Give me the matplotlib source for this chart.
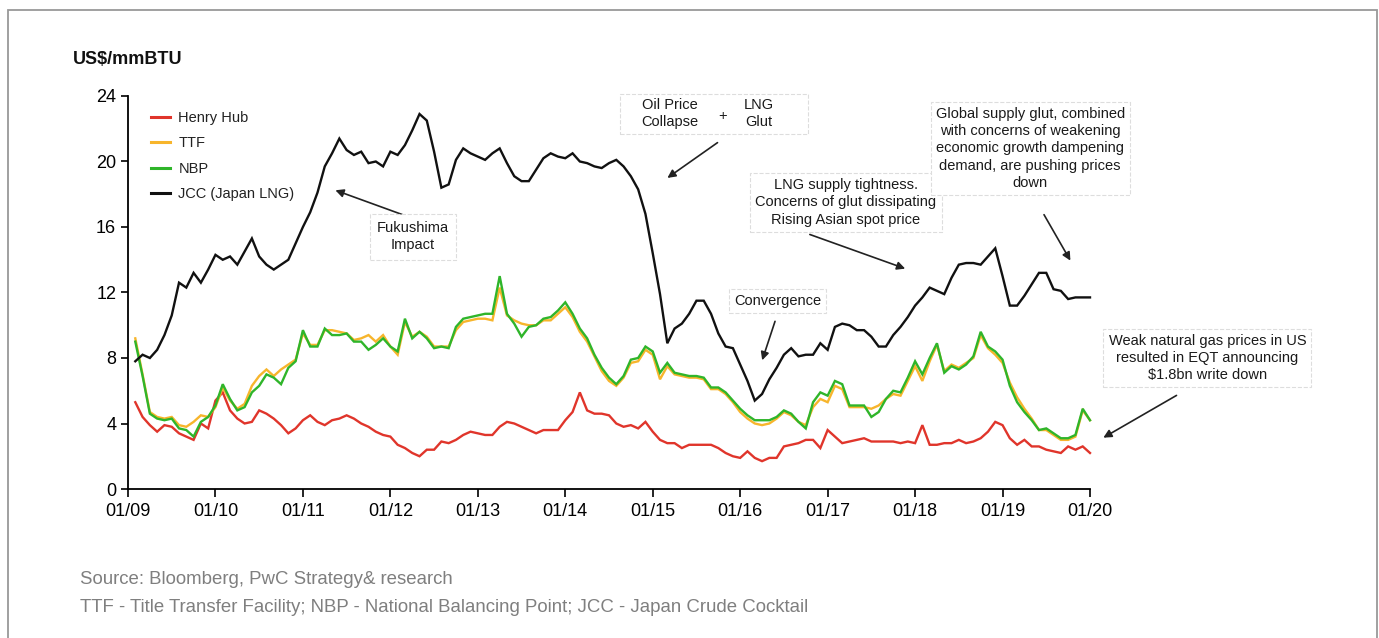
import numpy as np
import matplotlib
matplotlib.use("Agg")
import matplotlib.pyplot as plt
from matplotlib.patches import Rectangle

plt.rcParams['font.family'] = ['Liberation Sans', 'DejaVu Sans']

# monthly prices, Feb 2009 .. Jan 2020 (US$/mmBTU)
henry_hub = [5.3, 4.4, 3.9, 3.5, 3.9, 3.8, 3.4, 3.2, 3.0, 4.0, 3.7, 5.4,
             5.9, 4.8, 4.3, 4.0, 4.1, 4.8, 4.6, 4.3, 3.9, 3.4, 3.7, 4.2,
             4.5, 4.1, 3.9, 4.2, 4.3, 4.5, 4.3, 4.0, 3.8, 3.5, 3.3, 3.2,
             2.7, 2.5, 2.2, 2.0, 2.4, 2.4, 2.9, 2.8, 3.0, 3.3, 3.5, 3.4,
             3.3, 3.3, 3.8, 4.1, 4.0, 3.8, 3.6, 3.4, 3.6, 3.6, 3.6, 4.2,
             4.7, 5.9, 4.8, 4.6, 4.6, 4.5, 4.0, 3.8, 3.9, 3.7, 4.1, 3.5,
             3.0, 2.8, 2.8, 2.5, 2.7, 2.7, 2.7, 2.7, 2.5, 2.2, 2.0, 1.9,
             2.3, 1.9, 1.7, 1.9, 1.9, 2.6, 2.7, 2.8, 3.0, 3.0, 2.5, 3.6,
             3.2, 2.8, 2.9, 3.0, 3.1, 2.9, 2.9, 2.9, 2.9, 2.8, 2.9, 2.8,
             3.9, 2.7, 2.7, 2.8, 2.8, 3.0, 2.8, 2.9, 3.1, 3.5, 4.1, 3.9,
             3.1, 2.7, 3.0, 2.6, 2.6, 2.4, 2.3, 2.2, 2.6, 2.4, 2.6, 2.2]

ttf = [9.2, 7.0, 4.7, 4.4, 4.3, 4.4, 3.9, 3.8, 4.1, 4.5, 4.4, 5.0,
       6.2, 5.4, 4.9, 5.2, 6.3, 6.9, 7.3, 6.9, 7.3, 7.6, 7.9, 9.5,
       8.8, 8.8, 9.7, 9.7, 9.6, 9.5, 9.1, 9.2, 9.4, 9.0, 9.4, 8.7,
       8.2, 10.2, 9.3, 9.6, 9.3, 8.7, 8.7, 8.7, 9.7, 10.2, 10.3, 10.4,
       10.4, 10.3, 12.3, 10.6, 10.3, 10.1, 10.0, 10.0, 10.3, 10.3, 10.7, 11.1,
       10.5, 9.6, 9.0, 8.1, 7.2, 6.6, 6.3, 6.8, 7.7, 7.8, 8.5, 8.2,
       6.7, 7.5, 7.0, 6.9, 6.8, 6.8, 6.7, 6.1, 6.1, 5.8, 5.3, 4.7,
       4.3, 4.0, 3.9, 4.0, 4.3, 4.7, 4.5, 4.1, 3.9, 5.0, 5.5, 5.3,
       6.3, 6.1, 5.0, 5.0, 5.0, 4.9, 5.1, 5.5, 5.8, 5.7, 6.6, 7.5,
       6.6, 7.8, 8.8, 7.2, 7.6, 7.4, 7.7, 8.0, 9.4, 8.6, 8.2, 7.7,
       6.5, 5.6, 4.9, 4.3, 3.6, 3.6, 3.3, 3.0, 3.0, 3.2, 4.8, 4.2]

nbp = [9.0, 6.9, 4.6, 4.3, 4.2, 4.3, 3.7, 3.6, 3.2, 4.1, 4.4, 5.1,
       6.4, 5.5, 4.8, 5.0, 5.9, 6.3, 7.0, 6.8, 6.4, 7.4, 7.8, 9.7,
       8.7, 8.7, 9.8, 9.4, 9.4, 9.5, 9.0, 9.0, 8.5, 8.8, 9.2, 8.7,
       8.4, 10.4, 9.2, 9.6, 9.2, 8.6, 8.7, 8.6, 9.9, 10.4, 10.5, 10.6,
       10.7, 10.7, 13.0, 10.7, 10.1, 9.3, 9.9, 10.0, 10.4, 10.5, 10.9, 11.4,
       10.7, 9.8, 9.2, 8.2, 7.4, 6.8, 6.4, 6.9, 7.9, 8.0, 8.7, 8.4,
       7.1, 7.7, 7.1, 7.0, 6.9, 6.9, 6.8, 6.2, 6.2, 5.9, 5.4, 4.9,
       4.5, 4.2, 4.2, 4.2, 4.4, 4.8, 4.6, 4.1, 3.7, 5.3, 5.9, 5.7,
       6.6, 6.4, 5.1, 5.1, 5.1, 4.4, 4.7, 5.5, 6.0, 5.9, 6.8, 7.8,
       7.0, 8.0, 8.9, 7.1, 7.5, 7.3, 7.6, 8.1, 9.6, 8.7, 8.4, 7.9,
       6.3, 5.3, 4.7, 4.2, 3.6, 3.7, 3.4, 3.1, 3.1, 3.3, 4.9, 4.2]

jcc = [7.8, 8.2, 8.0, 8.5, 9.4, 10.6, 12.6, 12.3, 13.2, 12.6, 13.4, 14.3,
       14.0, 14.2, 13.7, 14.5, 15.3, 14.2, 13.7, 13.4, 13.7, 14.0, 15.0, 16.0,
       16.9, 18.1, 19.7, 20.5, 21.4, 20.7, 20.4, 20.6, 19.9, 20.0, 19.7, 20.6,
       20.4, 21.0, 21.9, 22.9, 22.5, 20.6, 18.4, 18.6, 20.1, 20.8, 20.5, 20.3,
       20.1, 20.5, 20.8, 19.9, 19.1, 18.8, 18.8, 19.5, 20.2, 20.5, 20.3, 20.2,
       20.5, 20.0, 19.9, 19.7, 19.6, 19.9, 20.1, 19.7, 19.1, 18.3, 16.8, 14.4,
       11.9, 8.9, 9.8, 10.1, 10.7, 11.5, 11.5, 10.7, 9.5, 8.7, 8.6, 7.6,
       6.6, 5.4, 5.8, 6.7, 7.4, 8.2, 8.6, 8.1, 8.2, 8.2, 8.9, 8.5,
       9.9, 10.1, 10.0, 9.7, 9.7, 9.3, 8.7, 8.7, 9.4, 9.9, 10.5, 11.2,
       11.7, 12.3, 12.1, 11.9, 12.9, 13.7, 13.8, 13.8, 13.7, 14.2, 14.7, 13.0,
       11.2, 11.2, 11.8, 12.5, 13.2, 13.2, 12.2, 12.1, 11.6, 11.7, 11.7, 11.7]

series_names = ['Henry Hub', 'TTF', 'NBP', 'JCC (Japan LNG)']
series_colors = ['#e0352b', '#f7b52c', '#2fb52a', '#111111']
year_labels = ['01/%02d' % y for y in range(9, 21)]

months = np.arange(1, len(jcc) + 1)

W, H = 1379, 638
fig = plt.figure(figsize=(W / 100, H / 100), dpi=100)
ax = fig.add_axes([128 / W, 1 - 489 / H, 962 / W, 393 / H])

for vals, name, col in zip([henry_hub, ttf, nbp, jcc], series_names, series_colors):
    ax.plot(months, vals, color=col, lw=1.7, label=name, clip_on=False,
            solid_joinstyle='miter')

ax.set_xlim(0, 132)
ax.set_ylim(0, 24)
ax.set_xticks(np.arange(0, 133, 12))
ax.set_xticklabels(year_labels, fontsize=13)
ax.set_yticks(np.arange(0, 25, 4))
ax.tick_params(axis='y', labelsize=13, length=5, width=1.2, direction='out')
ax.tick_params(axis='x', length=6, width=1.2, direction='out', pad=4)
for s in ['top', 'right']:
    ax.spines[s].set_visible(False)
for s in ['left', 'bottom']:
    ax.spines[s].set_linewidth(1.3)

leg = ax.legend(loc='upper left', bbox_to_anchor=(0.01, 0.995), frameon=False,
                fontsize=10.5, handlelength=1.3, handletextpad=0.6, labelspacing=0.78)
for t in leg.get_texts():
    t.set_color('#222222')
for h in leg.get_lines():
    h.set_linewidth(2.2)

box = dict(boxstyle='square,pad=0.35', fc='white', ec='#dddddd', ls='--', lw=0.8)
arrow = dict(arrowstyle='-|>', color='#222222', lw=1.2, mutation_scale=12)
tfont = dict(fontsize=10.5, color='#1a1a1a', ha='center', va='center', linespacing=1.3)

ax.annotate('', xy=(28.1, 18.3), xytext=(38.0, 16.7), arrowprops=arrow)
ax.text(39.1, 15.4, 'Fukushima\nImpact', bbox=dict(box, boxstyle='square,pad=0.5'), **tfont)

ax.add_patch(Rectangle((67.5, 21.7), 25.8, 2.45, fill=False, ec='#dddddd', ls='--',
                       lw=0.8, clip_on=False))
ax.text(74.4, 22.95, 'Oil Price\nCollapse', **tfont)
ax.text(81.6, 22.8, '+', **tfont)
ax.text(86.6, 22.95, 'LNG\nGlut', **tfont)
ax.annotate('', xy=(73.7, 18.9), xytext=(81.2, 21.25), arrowprops=arrow)

ax.text(98.5, 17.5, 'LNG supply tightness.\nConcerns of glut dissipating\nRising Asian spot price',
        bbox=box, **tfont)
ax.annotate('', xy=(107.0, 13.4), xytext=(93.2, 15.6), arrowprops=arrow)

ax.text(89.1, 11.5, 'Convergence', bbox=box, **tfont)
ax.annotate('', xy=(86.9, 7.7), xytext=(88.9, 10.4), arrowprops=arrow)

ax.text(123.8, 20.8, 'Global supply glut, combined\nwith concerns of weakening\n'
        'economic growth dampening\ndemand, are pushing prices\ndown', bbox=box, **tfont)
ax.annotate('', xy=(129.5, 13.8), xytext=(125.5, 16.9), arrowprops=arrow)

ax.text(148.1, 8.0, 'Weak natural gas prices in US\nresulted in EQT announcing\n$1.8bn write down',
        bbox=box, clip_on=False, **tfont)
ax.annotate('', xy=(133.5, 3.05), xytext=(144.2, 5.8), arrowprops=arrow, annotation_clip=False)

fig.text(73 / W, 1 - 60 / H, 'US$/mmBTU', fontsize=13, fontweight='bold', va='center',
         ha='left', color='#111111')
foot = dict(fontsize=13.4, color='#7f7f7f', va='center', ha='left')
fig.text(80 / W, 1 - 579 / H, 'Source: Bloomberg, PwC Strategy& research', **foot)
fig.text(80 / W, 1 - 607 / H, 'TTF - Title Transfer Facility; NBP - National Balancing Point; '
         'JCC - Japan Crude Cocktail', **foot)

fig.patches.append(Rectangle((8 / W, -0.02), (1377 - 8) / W, (H - 10) / H + 0.02,
                             transform=fig.transFigure, fill=False, ec='#999999', lw=1.3))

fig.savefig('out.png', dpi=100)
